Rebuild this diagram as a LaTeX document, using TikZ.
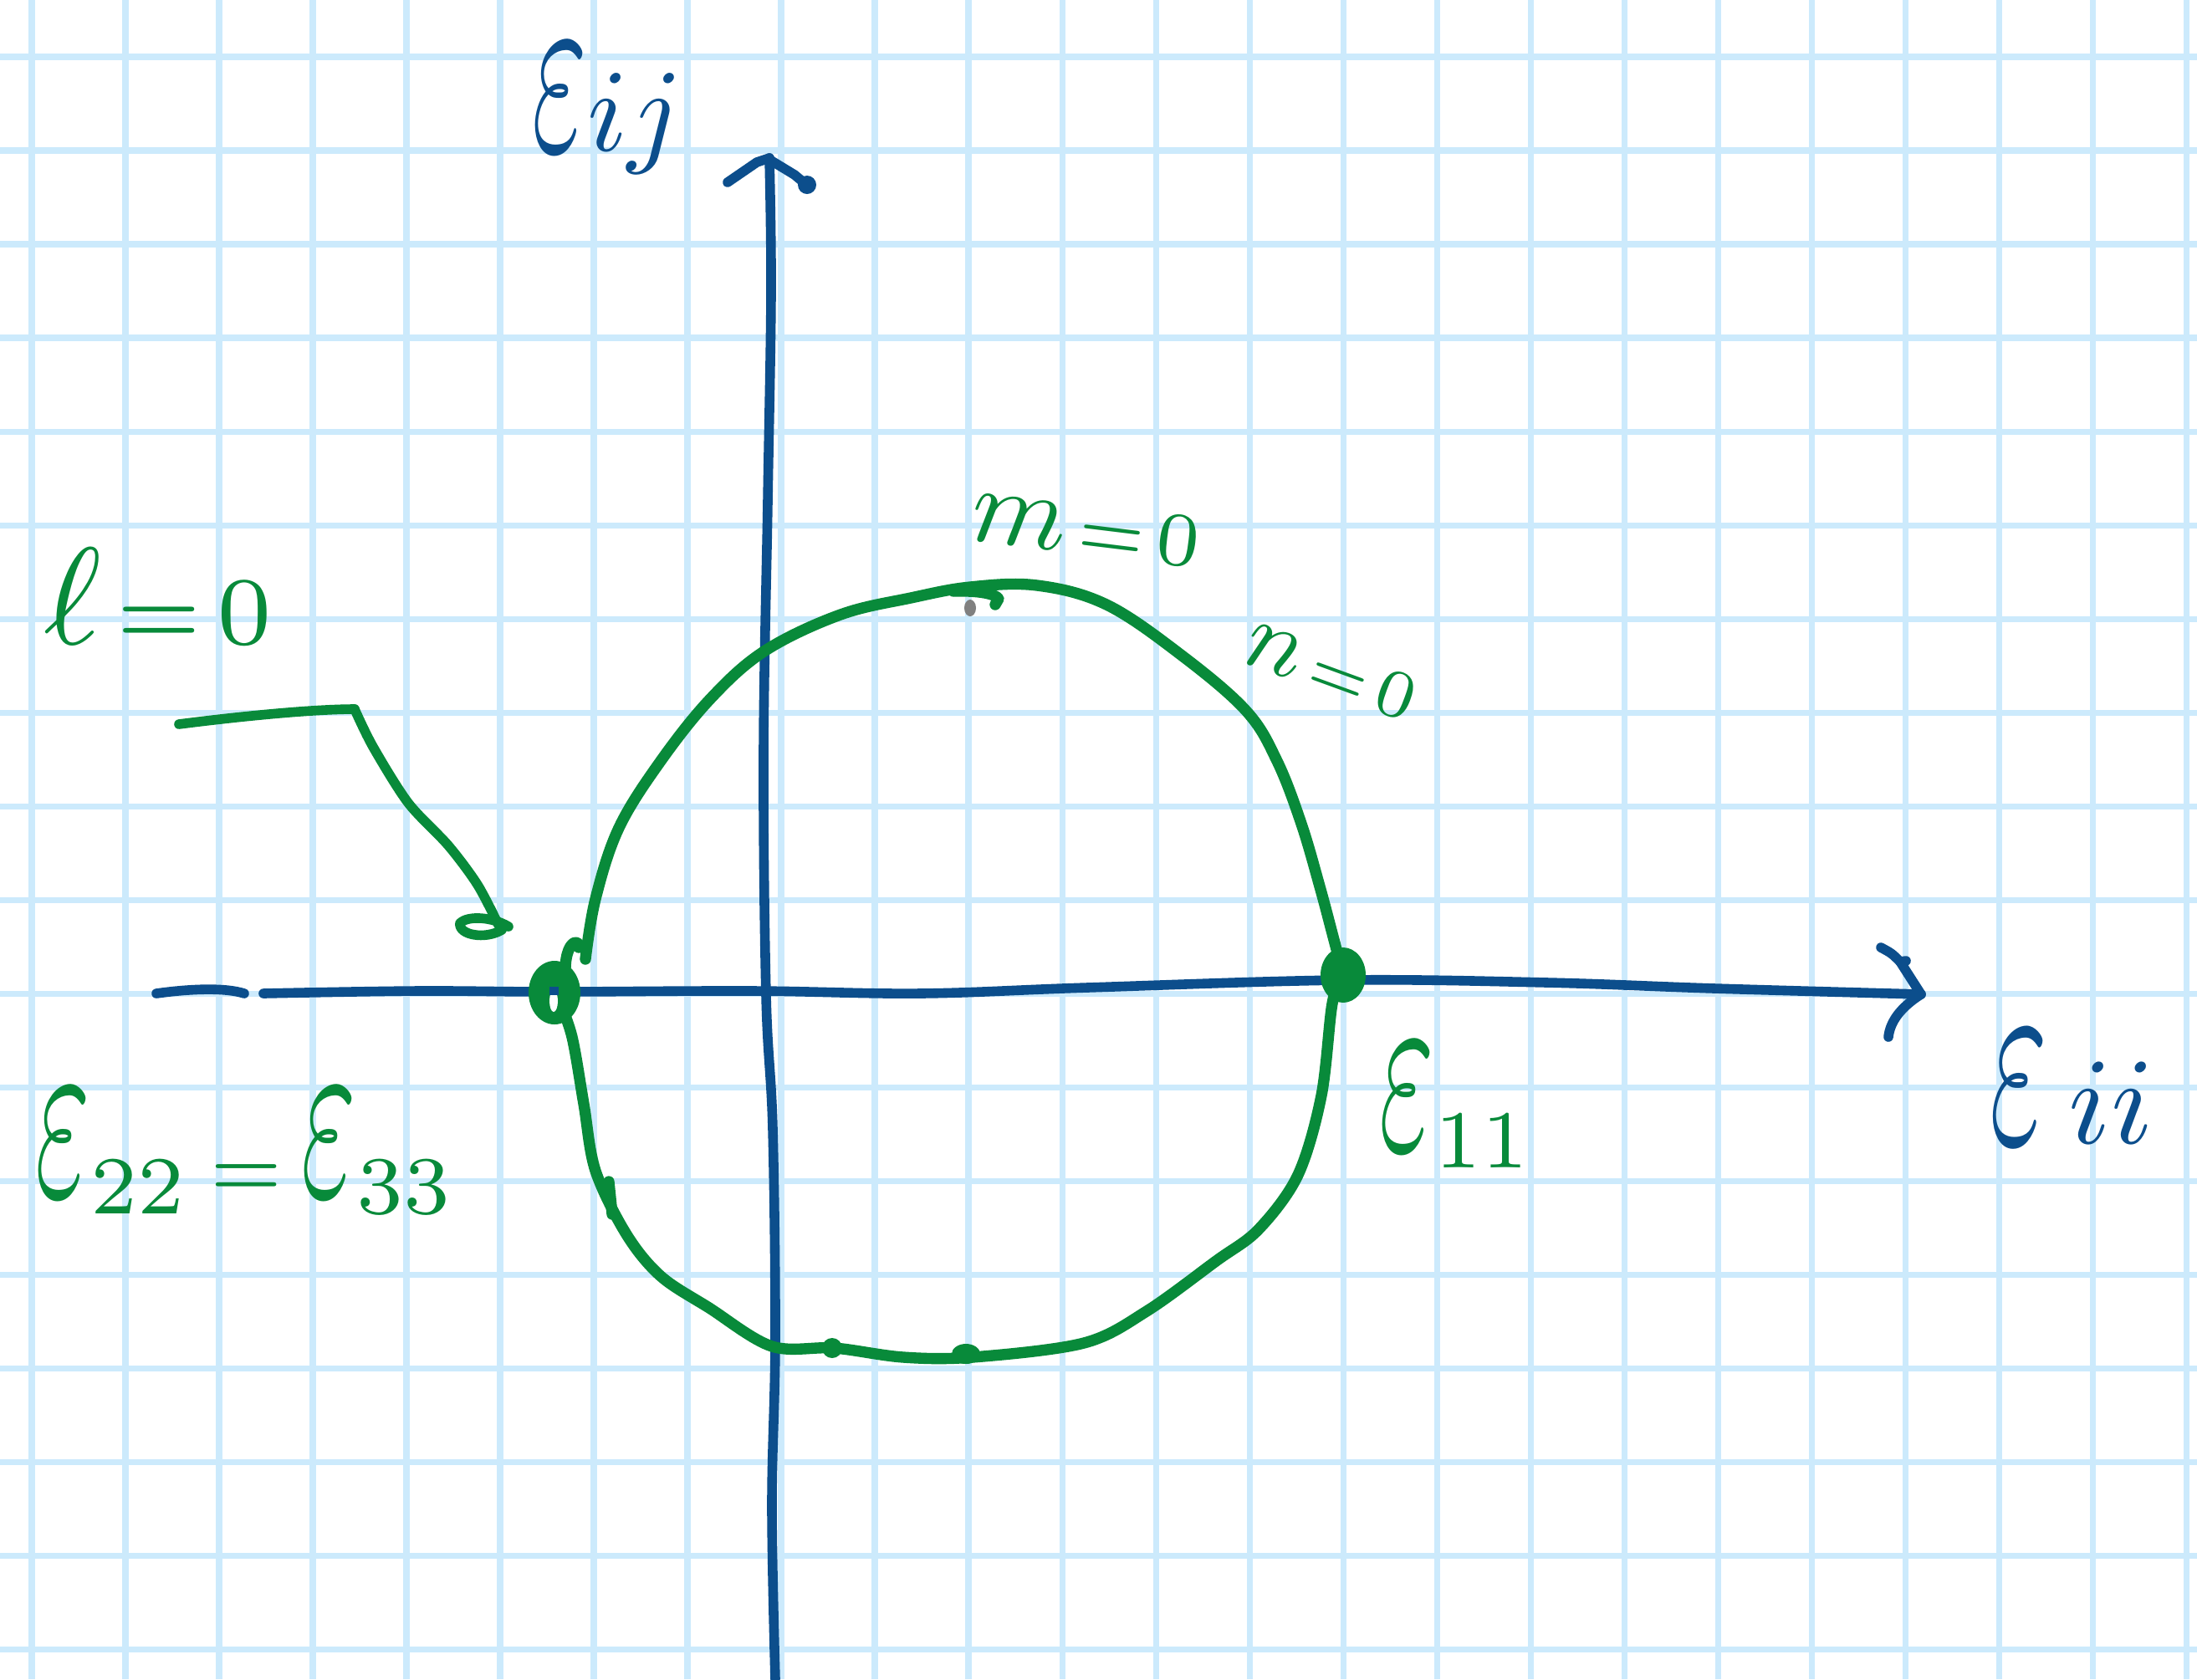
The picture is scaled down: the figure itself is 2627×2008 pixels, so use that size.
\documentclass[tikz,border=0pt]{standalone}
\usepackage{graphicx}
\definecolor{gridblue}{RGB}{204,234,252}
\definecolor{inkblue}{RGB}{12,78,140}
\definecolor{inkgreen}{RGB}{8,138,58}
\newcommand{\tallEps}{\scalebox{1}[2.1]{$\varepsilon$}}
\begin{document}
\begin{tikzpicture}[x=0.01cm,y=-0.01cm,
  gridline/.style={gridblue,line width=2pt},
  blueink/.style={inkblue,line width=3.3pt,line cap=round,line join=round},
  greenink/.style={inkgreen,line width=3.8pt,line cap=round,line join=round},
  lab/.style={inner sep=0pt,anchor=base west}]
\fill[white] (0,0) rectangle (2627,2008);
\useasboundingbox (0,0) rectangle (2627,2008);
% graph paper
\foreach \i in {0,...,23} \draw[gridline] ({38+112*\i},0) -- ({38+112*\i},2008);
\foreach \j in {0,...,17} \draw[gridline] (0,{68+112*\j}) -- (2627,{68+112*\j});
% horizontal axis
\coordinate (xa) at (187,1188);
\coordinate (xb) at (292,1188);
\coordinate (xc) at (315,1188);
\coordinate (xtip) at (2297,1189);
\draw[blueink] (xa) .. controls (230,1182) and (270,1181) .. (xb);
\draw[blueink] plot[smooth,tension=0.6] coordinates {(xc) (500,1185) (662,1186) (900,1185) (1100,1188) (1300,1181) (1606,1172) (1850,1175) (2050,1182) (xtip)};
\draw[blueink] (2249,1133) .. controls (2262,1140) .. (2272,1150) -- (2279,1149);
\draw[blueink] (2272,1150) -- (xtip) .. controls (2272,1205) and (2260,1222) .. (2258,1240);
% vertical axis
\coordinate (ya) at (927,2008);
\coordinate (ytip) at (920,189);
\draw[blueink] plot[smooth,tension=0.6] coordinates {(ya) (923,1800) (927,1600) (924,1350) (916,1190) (913,900) (918,600) (922,350) (ytip)};
\draw[blueink] (870,218) -- (905,194) -- (ytip);
\draw[blueink] (922,192) -- (950,209) -- (962,219);
\fill[inkblue] (965,221) circle (11);
% Mohr circle
\draw[greenink] plot[smooth,tension=0.6] coordinates {(700,1147) (712,1075) (740,990) (790,910) (850,835) (915,778) (1005,735) (1089,715) (1160,702) (1240,700) (1323,723) (1412,783) (1490,850) (1527,910) (1556,985) (1578,1060) (1594,1120) (1606,1166)};
\draw[greenink] plot[smooth,tension=0.55] coordinates {(1606,1166) (1593,1200) (1580,1310) (1552,1405) (1505,1470) (1454,1508) (1371,1568) (1296,1606) (1163,1623) (1080,1623) (998,1612) (923,1610) (848,1564) (790,1526) (749,1476) (712,1400) (698,1320) (684,1240) (668,1195)};
\draw[greenink] (1140,707) .. controls (1170,706) and (1190,710) .. (1194,716) -- (1190,723);
\fill[gray] (1160,727) ellipse [x radius=7, y radius=10];
\draw[greenink] (728,1413) -- (732,1452);
\fill[inkgreen] (995,1612) ellipse [x radius=12, y radius=12];
\fill[inkgreen] (1155,1619) ellipse [x radius=17, y radius=12];
% principal points
\fill[inkgreen] (663,1187) ellipse [x radius=31, y radius=38];
\fill[white] (662,1197) ellipse [x radius=5, y radius=13];
\draw[inkblue,line width=2.9pt] (657,1185) -- (668,1185);
\draw[greenink] (676,1160) .. controls (676,1140) and (682,1128) .. (688,1127) .. controls (692,1128) .. (692,1133);
\fill[inkgreen] (1606,1166) ellipse [x radius=27, y radius=33];
% arrow from l=0
\coordinate (ls) at (214,866);
\coordinate (lk) at (424,848);
\coordinate (le) at (596,1106);
\draw[greenink,line width=3.3pt] (ls) .. controls (300,855) and (380,848) .. (lk);
\draw[greenink,line width=3.3pt] plot[smooth,tension=0.5] coordinates {(lk) (446,893) (488,960) (536,1011) (571,1058) (le)};
\draw[greenink,line width=3.3pt] (608,1108) .. controls (590,1097) and (560,1094) .. (550,1104) .. controls (548,1118) and (580,1124) .. (600,1112);
% labels
\node[lab,inkblue,scale=4] (eij) at (634,180) {\tallEps$ij$};
\node[lab,inkblue,scale=4.2] (eii) at (2377,1367) {\tallEps$\,ii$};
\node[lab,inkgreen,scale=4] (e11) at (1647,1375) {\tallEps$_{11}$};
\node[lab,inkgreen,scale=4] (e2233) at (40,1430) {\tallEps$_{22}\,{\scriptstyle=}\,$\tallEps$_{33}$};
\node[lab,inkgreen,scale=4.7] (l0) at (49,770) {$\ell\mkern2mu{\scriptstyle=}\mkern2mu{\scriptstyle 0}$};
\node[lab,inkgreen,scale=3.7,rotate=-7] (m0) at (1156,645) {$m\mkern2mu{\scriptstyle=}\mkern2mu{\scriptstyle 0}$};
\node[lab,inkgreen,scale=3.3,rotate=-20] (n0) at (1480,790) {$n\mkern2mu{\scriptstyle=}\mkern2mu{\scriptstyle 0}$};
\end{tikzpicture}
\end{document}
